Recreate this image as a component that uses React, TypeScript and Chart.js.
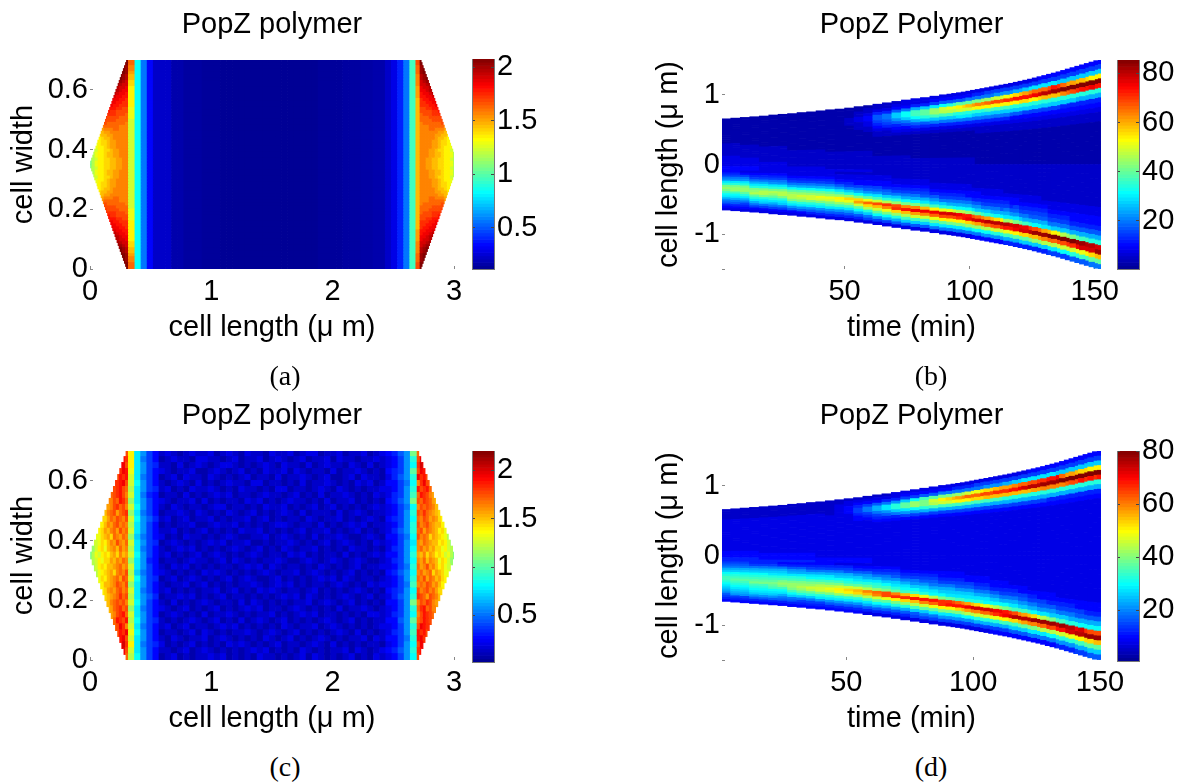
import React, { useEffect, useRef } from "react";
import { Chart, registerables } from "chart.js";

Chart.register(...registerables);

const FONT = "'Liberation Sans', Arial, sans-serif";

// Jet colour stops: position, r, g, b
const jetStops = [
  [0, 0, 0, 0.5625],
  [0.111, 0, 0, 1],
  [0.365, 0, 1, 1],
  [0.619, 1, 1, 0],
  [0.873, 1, 0, 0],
  [1, 0.5, 0, 0],
];

/* ---------- panel (a): levels 0-35 written base 36 ---------- */
const aEdge = [0.3, 0.292, 0.283, 0.274, 0.266, 0.257, 0.248, 0.24, 0.231, 0.222, 0.213, 0.205, 0.196, 0.187, 0.179, 0.17, 0.161, 0.152, 0.144, 0.135, 0.126, 0.118, 0.109, 0.1, 0.091, 0.083, 0.074, 0.065, 0.057, 0.048, 0.039, 0.03, 0.022, 0.013, 0.004];
const aTip = [
  "............z", "............z", "...........zy", "...........zy", "...........zy",
  "..........zyx", "..........zyx", "..........yxw", ".........yxww", ".........xwwv",
  ".........xwvv", "........xwvvu", "........wvvuu", ".......wvvuut", ".......vvuutt",
  ".......vuuttt", "......uuuttss", "......uttssss", "......tttsssr", ".....tssssrrr",
  ".....ssssrrrr", ".....srrrrrrq", "....qrrrrrqqq", "....pqqqrrqqq", "....oppqqqqqq",
  "...nooppqqqqq", "...mnoopqqqqq", "...mnnoppqqqq", "..lmnnoppqqqq", "..lmmnoppqqqq",
  "..kmmnnoppqqq", ".jlmmnooppqqq", ".jlmmnooppqqq", "ijkmmnnooppqq", "hjlmmnnooppqq",
];
const aBandL = "rrqqpoonnmmmmmmmllllkkkkkkkkkkkkkkk";
const aBandR = "ssrrrqqqqppppoooooooooooooooooooooo";
const aBody = [13, 8, 4, 2, 2, 2, 1, 1, 0.6, 0.6, 0.6, 0.4, 0.4, 0.4, 0.2, 0.2, 0.2, 0.2, 0.2, 0.2, 0.2, 0.2, 0.2, 0.2, 0.2, 0.2, 0.2, 0.2, 0.2, 0.2, 0.4, 0.4, 0.4, 0.4, 0.6, 0.6, 0.6, 0.8, 0.8, 1, 1, 2, 3, 5, 8, 15];

/* ---------- panel (c) ---------- */
const cEdge = [0.296, 0.279, 0.261, 0.244, 0.227, 0.209, 0.192, 0.174, 0.157, 0.139, 0.122, 0.105, 0.087, 0.07, 0.052, 0.035, 0.017, 0, 0.017, 0.035, 0.052, 0.07, 0.087, 0.105, 0.122, 0.139, 0.157, 0.174, 0.192, 0.209, 0.227, 0.244, 0.261, 0.279, 0.296];
const cTip = [
  "...........us", "...........ut", "...........vs", "..........tvu", ".........sutu",
  ".........tuvs", "........stusr", ".......rstusq", ".......qsrutr", "......pqstrsq",
  ".....oqrsprst", ".....nprqsrqs", "....moqprsqrq", "...mnpoqrpsqr", "...lnopnrqprq",
  "..klnmoqpsqpr", ".ikmnlopqorpq", "hjlkmnmopnqop", ".jkmlnnpoqprq", ".ikmnmoopqrpq",
  "..jlmnopnqrqs", "...lnmopqrpsr", "...lmoopqsrqs", "....mnpqprsqr", ".....nopqrtrs",
  ".....ooqrsrsq", "......oprstrs", ".......pqstur", ".......qrutsu", "........rsvtq",
  ".........sutv", ".........tuvs", "..........uwt", "...........vs", "...........ur",
];
const cLeft = ["mc964", "mc864", "mc965", "lc964", "kc864", "kd964", "jc965", "kc854", "ic964", "kd964", "ic864", "kd975", "jc964", "kc964", "ib864", "kc965", "jc864", "kd964", "ic954", "kc964", "jb864", "kd965", "ic964", "kc864", "jc975", "kd964", "ic864", "kc964", "jd965", "kc864", "ld964", "kc964", "mc865", "kc964", "jd964"];
const cMid = [
  "2321232231232132213223123312231223123", "1232213322123122312321231223132212232", "2213123212332121232132213123221321312",
  "3212231123212312132231321221312232121", "1231322132121231221312232123112313221", "2123213121232213312212131223212132312",
  "2312132232121322121331221232132121223", "1221312123231221232212312131223212132", "3212231312122132312123221213122312121",
  "2132122123312212132231212312312121232", "1223213212132123121232131222131232122", "2312312231212231231212213212231212321",
  "1212231123223121212332122131212323122", "2231212312121322312121231223121231212", "3121322121232112231232121312232112321",
  "1232121232312231121223212123123212132", "2123231212123212312132122312121322121", "2312123123212123212213231212213121232",
  "1221232212313212122321123212321232112", "2132312121221232313212212132121231223", "3212121323212121232122312321212312121",
  "1231232121231232112312121232313212212", "2122312312121223212323121221232121323", "2312121223123121323212212312121232121",
  "1223231212312212121232313212123212312", "2131212321221313212121223123212312121", "3212312123121232312212321212131223212",
  "1232121312232121223121232312212121332", "2121232123121312321231212123212312122", "2312312212323121212132122312321212123",
  "1221231321212232123212312121232131212", "2132122312321212132123121232121223132", "3121231212132321212312212321312121221",
  "2212312321212123231212132121223132123", "1231212232312121322121231321212312132",
];
const cRight = ["4579h", "3469e", "3469d", "4569g", "3579e", "4468d", "3469e", "3569f", "4579h", "3468d", "3469e", "4569d", "3469e", "3579e", "4468d", "3469c", "3569d", "4469e", "3569d", "3468e", "4579d", "3469e", "3468f", "4569d", "3579e", "4469h", "3469e", "3569d", "4479g", "3469e", "3569f", "4468e", "3469d", "4579e", "3469d"];

/* ---------- panel (b) ---------- */
const bTimes = [2.9, 6.7, 10.5, 14.3, 18.1, 21.9, 25.6, 29.4, 33.2, 37, 40.8, 44.6, 48.4, 52.2, 56, 59.8, 63.5, 67.3, 71.1, 74.9, 78.7, 82.5, 86.3, 90.1, 93.9, 97.7, 101.4, 105.2, 109, 112.8, 116.6, 120.4, 124.2, 128, 131.8, 135.6, 139.3, 143.1, 146.9, 150.7];
const bEdge = [0.655, 0.665, 0.675, 0.685, 0.695, 0.71, 0.72, 0.73, 0.745, 0.755, 0.77, 0.785, 0.795, 0.81, 0.83, 0.845, 0.865, 0.885, 0.905, 0.925, 0.945, 0.96, 0.98, 1.0, 1.02, 1.04, 1.065, 1.09, 1.115, 1.14, 1.165, 1.195, 1.225, 1.26, 1.295, 1.33, 1.37, 1.41, 1.45, 1.49];
const bTop = [
  "111111111111", "111111111111", "111111111111", "111111111111", "111111111111", "111111111111", "111111111111", "111111111111",
  "111111111111", "111111111111", "111111111111", "111111111111", "111111111111", "111122211111", "112233222111", "122344332211",
  "223577654322", "223588765322", "2347bb975432", "3348ddb86432", "335affda7532", "335bggeb7532", "346ciifb8532", "347dkjfb8532",
  "347fljeb8532", "347gnkec8532", "358hpleb8532", "358iqmeb8532", "368jslfb8532", "369ksmfb8532", "369mtmeb7432", "36aouneb7432",
  "36cqumeb6432", "46crwneb6432", "46csxoeb6432", "46btyoeb6432", "46bpzreb5432", "46boztea5432", "46bnzuea5432", "46bmzuea5432",
];
const bMid = [
  "2222223333344", "2222223333344", "1222222333344", "1222222333344", "1122222223333", "1122222223333", "1122222223333", "1111222222233",
  "1111222222233", "1111222222233", "1111222222233", "1111122222223", "1111122222223", "1111122222223", "1111122222223", "1111122222223",
  "1111111222222", "1111111222222", "1111111222222", "1111111222222", "1111111122222", "1111111122222", "1111111122222", "1111111122222",
  "1111111122222", "1111111122222", "1111111122222", "2111111111222", "2111111111222", "2111111111222", "2111111111222", "2111111111222",
  "2111111111222", "2111111111222", "2111111111222", "2111111111222", "2111111111222", "2111111111222", "2111111111222", "2111111111222",
];
const bLow = [
  "45689cehihfdca87543", "45689cehiifdca87543", "34689cehiigeca86543", "34568acehijgeca8643", "34568acehjjhecb8643", "345689cehjigeca8643", "345689cehjjhecb8643", "334568adgijjhec9743",
  "334568adgikjhec9743", "334568adgikkhec9753", "334568adgilkhec9753", "334568adgilkhfc9753", "2334579cfimlifc9753", "2334568beinlifc9753", "2334468adhnpkgda753", "23344679cglrnjeb863",
  "23344679cfksokgd963", "23344578bejtqlhda63", "22334568beistniea73", "22334568adhquojfb73", "22334568adhqvpkfb73", "22334567acgovqkfb73", "222334579bfmvrlgc83", "222334568belwsmgc83",
  "222334568adkwsmhc83", "222334568adjuumhc83", "2222344579chswoid84", "2222334568bfqwqjd94", "2222334568aeoxske94", "2222334567admxtke94", "22222344579cjwumfa5", "22222334568bgvwngb5",
  "22222334567aetxohb5", "22222334567adrypib5", "222222334568cozrjc6", "222222334568blzskd6", "222222334568biztkd6", "222222334457agyvle7", "222222334457afxwmf7", "222222334457aewyog8",
];
// extra columns read between the later columns of (b)
const bLateTimes = [92, 95.8, 99.55, 103.3, 107.1, 110.9, 114.7, 118.5, 122.3, 126.1, 129.9, 133.7, 137.45, 141.2, 145, 148.8, 152.5];
const bLateEdge = [1.01, 1.03, 1.052, 1.077, 1.102, 1.127, 1.152, 1.18, 1.21, 1.242, 1.277, 1.312, 1.35, 1.39, 1.43, 1.47, 1.505];
const bLateTop = ["347eljfb8532", "347gmkec8532", "348gokec8532", "358hqmeb8532", "368irmfb8532", "369ksmfb8532", "369ltmfb8532", "36anumeb7432", "36bpuneb6432", "36crvmeb6432", "46crxoeb6432", "46cuyoeb6432", "46brzqeb5432", "46bpzseb5432", "46bozuea5432", "46bmzvea5432", "46bmzuea5432"];
const bLateMid = ["1111111122222", "1111111122222", "1111111122222", "2111111111222", "2111111111222", "2111111111222", "2111111111222", "2111111111222", "2111111111222", "2111111111222", "2111111111222", "2111111111222", "2111111111222", "2111111111222", "2111111111222", "2111111111222", "2111111111222"];
const bLateLow = ["222334568aelwsmhc83", "222334568adjvtmhc83", "222334468adiuvnic83", "2222344579bgrwpid84", "2222334568bepxrjd94", "2222334568adnxske94", "2222234568acixulfa5", "22222344679chwvmga5", "22222334568afvwngb5", "22222334567adsyoib5", "22222234567acpyqjb5", "222222334568bmzrjc6", "222222334568bjzskd6", "222222334457ahztke7", "222222334457afywlf7", "222222334457aexwng8", "222222334457aewyog8"];

/* ---------- panel (d) ---------- */
const dTimes = [2.9, 6.6, 10.3, 14, 17.8, 21.5, 25.2, 29, 32.7, 36.4, 40.1, 43.9, 47.6, 51.3, 55, 58.7, 62.5, 66.2, 69.9, 73.6, 77.4, 81.1, 84.8, 88.5, 92.3, 96, 99.7, 103.4, 107.2, 110.9, 114.6, 118.3, 122.1, 125.8, 129.5, 133.2, 137, 140.7, 144.4, 148.1];
const dEdge = [0.66, 0.67, 0.68, 0.69, 0.7, 0.71, 0.72, 0.735, 0.745, 0.76, 0.77, 0.785, 0.8, 0.815, 0.83, 0.85, 0.87, 0.885, 0.905, 0.925, 0.945, 0.965, 0.985, 1.005, 1.025, 1.045, 1.07, 1.095, 1.12, 1.145, 1.17, 1.2, 1.23, 1.26, 1.295, 1.33, 1.37, 1.41, 1.45, 1.49];
const dTop = [
  "222223333333", "222223333333", "222223333333", "222223333333", "222223333333", "222223333333", "222223333333", "222223333333",
  "222223333333", "222223333333", "222223333333", "222222333333", "223333333333", "233444333333", "234566544333", "234688654333",
  "2347aa865433", "2358cc975433", "3359eeb85433", "346bggc96433", "346diid96433", "347fhhea6433", "347gkjfa6433", "348hmkfa6433",
  "358iolfa6433", "358jqmfa6433", "358lrnfa6433", "368msnfa6433", "369nsofa6433", "369ptofa6433", "36apuoea6433", "36brvoea6433",
  "46csxoea6433", "46ctxpea6433", "46cuyqea5433", "46bvyqea5433", "46bpzrea5433", "46bozsea5433", "46bnztea5433", "46bmztea5433",
];
const dMid = [
  "3333333344455", "3333333344455", "3333333344455", "3333333344455", "3333333334445", "3333333334445", "3333333334445", "3333333334445",
  "3333333334445", "3333333334445", "3333333333344", "3333333333344", "3333333333344", "3333333333344", "3333333333344", "3333333333344",
  "3333333333333", "3333333333333", "3333333333333", "3333333333333", "3333333333333", "3333333333333", "3333333333333", "3333333333333",
  "3333333333333", "3333333333333", "3333333333333", "3333333333333", "3333333333333", "3333333333333", "3333333333333", "3333333333333",
  "3333333333333", "3333333333333", "3333333333333", "3333333333333", "3333333333333", "3333333333333", "3333333333333", "3333333333333",
];
const dLow = [
  "678abdeffedcba97654", "678abdefgfedcba9654", "678abdefgfedcba9654", "568abdefghfedcb9754", "568abdefghfedcb9754", "568abcefghgfdcb9754", "458abcefhihfdca8754", "4579acefhiihfdb8754",
  "4579acefhijigeb8654", "4568acdfhikjgeb8654", "4568acdfhjkkhec9654", "4568acdfhjlkhec9754", "3568abdfhkmliec9754", "3567abdegknmiec9754", "34579bcegkoniec9754", "34579acegjqojfca753",
  "34568acefirqkgda753", "345689bdfhsslgda753", "345679bcegqtmhea753", "334568acdfotniea753", "3345689bdfnuojfb763", "3345679bceluqkgb863", "3345678acdjurlgc863", "3344568abdhttmhc963",
  "3344568abcgsumhc963", "33445679bcfquoid963", "33344679bceowqjd963", "33344568acemwrkea63", "333344579bdkwslea64", "333344568adivumfa64", "333334568acgtwnfb74", "3333344679bfqxogb74",
  "3333334568aeoxqhc84", "33333344679ckyric84", "33333344579ciytjd84", "33333334568bfxuke95", "33333334568bexwle95", "33333334467aevxmfa6", "33333334457adtynga6", "33333334457adsyogb7",
];
// extra columns read between the later columns of (d)
const dLateTimes = [90.4, 94.15, 97.85, 101.55, 105.3, 109.05, 112.75, 116.45, 120.2, 123.95, 127.65, 131.35, 135.1, 138.85, 142.55, 146.25, 150];
const dLateEdge = [1.015, 1.035, 1.057, 1.082, 1.107, 1.132, 1.157, 1.185, 1.215, 1.245, 1.277, 1.312, 1.35, 1.39, 1.43, 1.47, 1.495];
const dLateTop = ["348hnkfa6433", "358ipmfa6433", "358krmfa6433", "368lrnfa6433", "369nsofa6433", "369otofa6433", "36aptoea6433", "36bquoea6433", "36crwoea6433", "46csxpea6433", "46ctyqea6433", "46cuyqea5433", "46brzqea5433", "46bpzsea5433", "46bnzuea5433", "46bmzuea5433", "46bmzuea5433"];
const dLateMid = ["3333333333333", "3333333333333", "3333333333333", "3333333333333", "3333333333333", "3333333333333", "3333333333333", "3333333333333", "3333333333333", "3333333333333", "3333333333333", "3333333333333", "3333333333333", "3333333333333", "3333333333333", "3333333333333", "3333333333333"];
const dLateLow = ["3344568abcgtumhc963", "33445679bcfrunhc963", "33344679bcepvpjd963", "33344568acenwqkea63", "33344568acdlwrkea63", "333344579bdjvtlea64", "333344568adhuvmfa64", "333334568acfsxnfb74", "3333344679bfpxpgb74", "3333334568adnyqhc84", "33333344679cjyrjc84", "33333344579bhysjd84", "33333334568bfyuke95", "33333334568aexwle95", "33333334467adwxmfa6", "33333334457adsyngb7", "33333334457adsyogb7"];

/* ---------- axes ---------- */
const widthTicks = [0, 0.2, 0.4, 0.6];
const lengthTicks = [0, 1, 2, 3];
const timeTicks = [50, 100, 150];
const kymoTicks = [-1.5, -1, 0, 1];
const kymoBlank = [-1.5];
const aBarTicks = [0.5, 1, 1.5, 2];
const bBarTicks = [20, 40, 60, 80];
const aBarRange = [0.117, 2.075];
const bBarRange = [0.5, 85.4];
const cBarRange = [0.02, 2.197];
const dBarRange = [0.8, 80.1];

function jet(f: number): string {
  const t = Math.max(0, Math.min(1, f));
  for (let i = 1; i < jetStops.length; i++) {
    const a = jetStops[i - 1];
    const b = jetStops[i];
    if (t <= b[0]) {
      const k = (t - a[0]) / (b[0] - a[0]);
      const c = [1, 2, 3].map((n) => Math.round(255 * (a[n] + (b[n] - a[n]) * k)));
      return `rgb(${c[0]},${c[1]},${c[2]})`;
    }
  }
  return "rgb(128,0,0)";
}
const lvl = (ch: string) => parseInt(ch, 36);
const lvlColor = (l: number) => jet(l / 35);

type Cell = { x: any; y: any };
type Cells = { data: Cell[]; colors: string[]; thickness: number };

function tipLevel(row: string, c: number): number {
  let ch = row[c];
  if (ch === "." || ch === undefined) {
    ch = row.replace(/\./g, "")[0];
  }
  return lvl(ch);
}

function addTips(out: Cells, yc: number, row: string, edge: number, mirror: number, rowR: string) {
  for (let c = 0; c < 13; c++) {
    const x1 = 0.316 - 0.025 * (12 - c);
    const x0 = Math.max(x1 - 0.025, edge);
    if (x1 <= edge) continue;
    out.data.push({ x: [x0, x1], y: yc });
    out.colors.push(lvlColor(tipLevel(row, c)));
    out.data.push({ x: [mirror - x1, Math.min(mirror - x0, 3)], y: yc });
    out.colors.push(lvlColor(tipLevel(rowR, c)));
  }
}

function buildA(): Cells[] {
  const out: Cells = { data: [], colors: [], thickness: 4 };
  const span = (2.685 - 0.37) / aBody.length;
  for (let i = 0; i < 70; i++) {
    const h = i < 35 ? i : 69 - i;
    const yc = 0.695 - 0.01 * i;
    addTips(out, yc, aTip[h], aEdge[h], 3.03, aTip[h]);
    out.data.push({ x: [0.316, 0.37], y: yc });
    out.colors.push(lvlColor(lvl(aBandL[h])));
    aBody.forEach((l, k) => {
      out.data.push({ x: [0.37 + span * k, 0.37 + span * (k + 1)], y: yc });
      out.colors.push(lvlColor(l));
    });
    out.data.push({ x: [2.685, 2.714], y: yc });
    out.colors.push(lvlColor(lvl(aBandR[h])));
  }
  return [out];
}

function buildC(): Cells[] {
  const out: Cells = { data: [], colors: [], thickness: 7 };
  const w = 0.0505;
  for (let i = 0; i < 35; i++) {
    const yc = 0.69 - 0.02 * i;
    addTips(out, yc, cTip[i], cEdge[i], 3.006, cTip[34 - i]);
    cLeft[i].split("").forEach((ch, k) => {
      out.data.push({ x: [0.316 + w * k, 0.316 + w * (k + 1)], y: yc });
      out.colors.push(lvlColor(lvl(ch)));
    });
    const start = 0.316 + w * 5;
    const end = 2.69 - w * 5;
    const mw = (end - start) / cMid[i].length;
    cMid[i].split("").forEach((ch, k) => {
      out.data.push({ x: [start + mw * k, start + mw * (k + 1)], y: yc });
      out.colors.push(lvlColor(lvl(ch)));
    });
    cRight[i].split("").forEach((ch, k) => {
      out.data.push({ x: [end + w * k, end + w * (k + 1)], y: yc });
      out.colors.push(lvlColor(lvl(ch)));
    });
  }
  return [out];
}

function addKymo(out: Cells, times: number[], edge: number[], top: string[], mid: string[], low: string[]) {
  times.forEach((t, j) => {
    const col = top[j] + mid[j] + low[j];
    const h = (2 * edge[j]) / col.length;
    col.split("").forEach((ch, r) => {
      // the small shift keeps a bar end off the exact zero line
      out.data.push({ x: t, y: [edge[j] - h * (r + 1) + 0.0009, edge[j] - h * r + 0.0009] });
      out.colors.push(lvlColor(lvl(ch)));
    });
  });
}

function buildKymo(
  times: number[], edge: number[], top: string[], mid: string[], low: string[],
  lt: number[], le: number[], ltop: string[], lmid: string[], llow: string[],
): Cells[] {
  const split = 24;
  const early: Cells = { data: [], colors: [], thickness: 11 };
  const late: Cells = { data: [], colors: [], thickness: 5.6 };
  addKymo(early, times.slice(0, split), edge.slice(0, split), top.slice(0, split), mid.slice(0, split), low.slice(0, split));
  addKymo(late, times.slice(split), edge.slice(split), top.slice(split), mid.slice(split), low.slice(split));
  addKymo(late, lt, le, ltop, lmid, llow);
  return [late, early];
}

function scaleBase(
  ticks: number[],
  min: number,
  max: number,
  size: number,
  isX: boolean,
  padding: number,
  titleText: string | null,
  blank: number[] = [],
) {
  return {
    type: "linear",
    position: isX ? "bottom" : "left",
    min,
    max,
    offset: false,
    afterBuildTicks: (s: any) => {
      s.ticks = ticks.map((value) => ({ value }));
    },
    afterFit: (s: any) => {
      if (isX) s.height = size;
      else s.width = size;
      s.paddingLeft = s.paddingRight = s.paddingTop = s.paddingBottom = 0;
    },
    grid: { offset: false, drawOnChartArea: false, drawTicks: true, tickLength: -3, tickColor: "#888", tickWidth: 1 },
    border: { display: false },
    ticks: {
      autoSkip: false,
      maxRotation: 0,
      minRotation: 0,
      padding,
      color: "#000",
      font: { family: FONT, size: 29 },
      callback: (v: number) => (blank.includes(v) ? "" : String(v)),
    },
    title: titleText
      ? { display: true, text: titleText, color: "#000", font: { family: FONT, size: 29 }, padding: 0 }
      : { display: false },
  };
}

type PanelCfg = {
  left: number; top: number; w: number; h: number;
  title: string; yw: number; xh: number; padRight: number;
  xMin: number; xMax: number; yMin: number; yMax: number;
  xTicks: number[]; yTicks: number[]; blank?: number[];
  xTitle: string; yTitle: string;
  cells: () => Cells[]; horizontal: boolean;
};

const panels: PanelCfg[] = [
  { left: 7, top: 0, w: 460, h: 345, title: "PopZ polymer", yw: 83, xh: 76, padRight: 13, xMin: 0, xMax: 3, yMin: 0, yMax: 0.7, xTicks: lengthTicks, yTicks: widthTicks, xTitle: "cell length (\u03bc m)", yTitle: "cell width", cells: buildA, horizontal: true },
  { left: 652, top: 0, w: 479, h: 345, title: "PopZ Polymer", yw: 70, xh: 76, padRight: 30, xMin: 1, xMax: 152.5, yMin: -1.5, yMax: 1.5, xTicks: timeTicks, yTicks: kymoTicks, blank: kymoBlank, xTitle: "time (min)", yTitle: "cell length (\u03bc m)", cells: () => buildKymo(bTimes, bEdge, bTop, bMid, bLow, bLateTimes, bLateEdge, bLateTop, bLateMid, bLateLow), horizontal: false },
  { left: 7, top: 391, w: 460, h: 345, title: "PopZ polymer", yw: 83, xh: 76, padRight: 13, xMin: 0, xMax: 3, yMin: 0, yMax: 0.7, xTicks: lengthTicks, yTicks: widthTicks, xTitle: "cell length (\u03bc m)", yTitle: "cell width", cells: buildC, horizontal: true },
  { left: 652, top: 391, w: 479, h: 345, title: "PopZ Polymer", yw: 70, xh: 76, padRight: 30, xMin: 1, xMax: 150.4, yMin: -1.5, yMax: 1.5, xTicks: timeTicks, yTicks: kymoTicks, blank: kymoBlank, xTitle: "time (min)", yTitle: "cell length (\u03bc m)", cells: () => buildKymo(dTimes, dEdge, dTop, dMid, dLow, dLateTimes, dLateEdge, dLateTop, dLateMid, dLateLow), horizontal: false },
];

type BarCfg = { left: number; top: number; h: number; range: number[]; ticks: number[] };
const bars: BarCfg[] = [
  { left: 472, top: 59, h: 210, range: aBarRange, ticks: aBarTicks },
  { left: 1117, top: 60, h: 209, range: bBarRange, ticks: bBarTicks },
  { left: 472, top: 451, h: 211, range: cBarRange, ticks: aBarTicks },
  { left: 1117, top: 451, h: 210, range: dBarRange, ticks: bBarTicks },
];
const barSteps = 64;
const barPad = 25;

const captions = [
  { text: "(a)", x: 285, y: 376 },
  { text: "(b)", x: 931, y: 376 },
  { text: "(c)", x: 285, y: 767 },
  { text: "(d)", x: 931, y: 767 },
];

function makePanel(canvas: HTMLCanvasElement, p: PanelCfg): Chart {
  const groups = p.cells();
  const xs: any = scaleBase(p.xTicks, p.xMin, p.xMax, p.xh, true, 9, p.xTitle);
  const ys: any = scaleBase(p.yTicks, p.yMin, p.yMax, p.yw, false, 5, p.yTitle, p.blank || []);
  return new Chart(canvas, {
    type: "bar",
    data: {
      datasets: groups.map(
        (g) =>
          ({
            data: g.data,
            backgroundColor: g.colors,
            borderWidth: 0,
            barThickness: g.thickness,
            grouped: false,
          }) as any,
      ),
    },
    options: {
      responsive: false,
      animation: false,
      devicePixelRatio: 1,
      indexAxis: p.horizontal ? "y" : "x",
      events: [],
      layout: { padding: { right: p.padRight, left: 0, top: 0, bottom: 0 } },
      plugins: {
        legend: { display: false },
        tooltip: { enabled: false },
        title: {
          display: true,
          text: p.title,
          color: "#000",
          fullSize: false,
          font: { family: FONT, size: 29, weight: "normal" },
          padding: { top: 8, bottom: 17.2 },
        },
      },
      scales: { x: xs, y: ys },
    } as any,
  });
}

function makeBar(canvas: HTMLCanvasElement, b: BarCfg): Chart {
  const [lo, hi] = b.range;
  const step = (hi - lo) / barSteps;
  const data: Cell[] = [];
  const colors: string[] = [];
  for (let i = 0; i < barSteps; i++) {
    data.push({ x: 0, y: [lo + step * i, lo + step * (i + 1)] });
    colors.push(jet((i + 0.5) / barSteps));
  }
  const right: any = scaleBase(b.ticks, lo, hi, 62, false, 6, null);
  right.position = "right";
  right.grid.z = 1;
  right.grid.tickColor = "#444";
  right.border = { display: true, color: "#777", width: 1, z: 2 };
  const left: any = scaleBase(b.ticks, lo, hi, 0, false, 0, null);
  left.grid.z = 1;
  left.grid.tickColor = "#444";
  left.ticks.display = false;
  left.border = { display: true, color: "#777", width: 1, z: 2 };
  return new Chart(canvas, {
    type: "bar",
    data: {
      datasets: [{ data, backgroundColor: colors, borderWidth: 0, barThickness: 30, grouped: false, yAxisID: "y" } as any],
    },
    options: {
      responsive: false,
      animation: false,
      devicePixelRatio: 1,
      events: [],
      layout: { padding: { top: barPad, bottom: barPad, left: 0, right: 0 } },
      plugins: { legend: { display: false }, tooltip: { enabled: false } },
      scales: {
        x: {
          type: "linear",
          min: -0.5,
          max: 0.5,
          offset: false,
          grid: { display: false, offset: false },
          ticks: { display: false },
          border: { display: true, color: "#777", width: 1, z: 2 },
          afterFit: (s: any) => {
            s.height = 0;
            s.paddingLeft = s.paddingRight = 0;
          },
        },
        y: right,
        yLeft: left,
      },
    } as any,
  });
}

function Panel({ p }: { p: PanelCfg }) {
  const ref = useRef<HTMLCanvasElement>(null);
  useEffect(() => {
    const chart = makePanel(ref.current!, p);
    return () => chart.destroy();
  }, [p]);
  return <canvas ref={ref} width={p.w} height={p.h} style={{ position: "absolute", left: p.left, top: p.top, width: p.w, height: p.h }} />;
}

function ColorBar({ b }: { b: BarCfg }) {
  const ref = useRef<HTMLCanvasElement>(null);
  const h = b.h + 2 * barPad;
  useEffect(() => {
    const chart = makeBar(ref.current!, b);
    return () => chart.destroy();
  }, [b]);
  return <canvas ref={ref} width={84} height={h} style={{ position: "absolute", left: b.left, top: b.top - barPad, width: 84, height: h }} />;
}

export default function App() {
  return (
    <div style={{ position: "absolute", left: 0, top: 0, width: 1179, height: 783, overflow: "hidden", background: "#fff" }}>
      {panels.map((p, i) => (
        <Panel key={i} p={p} />
      ))}
      {bars.map((b, i) => (
        <ColorBar key={i} b={b} />
      ))}
      {captions.map((c, i) => (
        <div
          key={i}
          style={{
            position: "absolute",
            left: c.x - 40,
            top: c.y - 18,
            width: 80,
            height: 36,
            lineHeight: "36px",
            textAlign: "center",
            fontFamily: "'Liberation Serif', serif",
            fontSize: 28,
            color: "#000",
          }}
        >
          {c.text}
        </div>
      ))}
    </div>
  );
}
